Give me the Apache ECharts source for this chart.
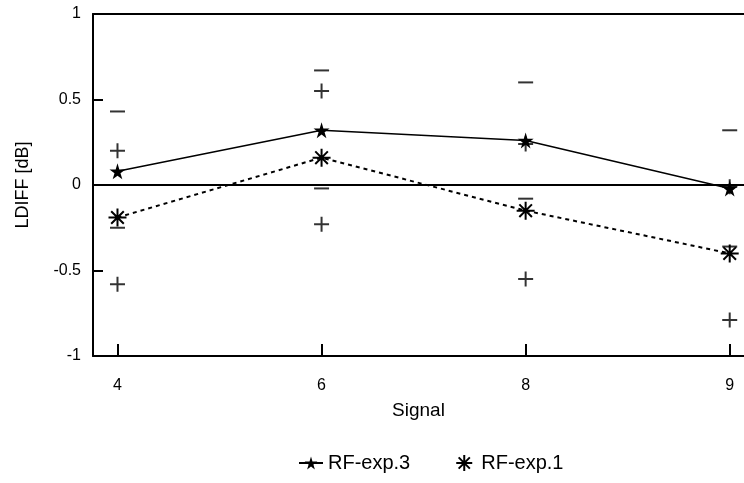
<!DOCTYPE html>
<html>
<head>
<meta charset="utf-8">
<script src="https://cdn.jsdelivr.net/npm/echarts@6/dist/echarts.min.js"></script>
<style>
  html, body { margin: 0; padding: 0; background: #fff; }
  #chart { width: 744px; height: 483px; }
</style>
</head>
<body>
<div id="chart"></div>
<script>
// Signal categories along the x axis
const categories = ['4', '6', '8', '9'];

// RF-exp.3: mean LDIFF with its upper / lower bounds
const rfExp3 = [0.08, 0.32, 0.26, -0.02];
const rfExp3Upper = [0.43, 0.67, 0.60, 0.32];
const rfExp3Lower = [-0.25, -0.02, -0.08, -0.36];

// RF-exp.1: mean LDIFF with its upper / lower bounds
const rfExp1 = [-0.19, 0.16, -0.15, -0.40];
const rfExp1Upper = [0.20, 0.55, 0.24, -0.01];
const rfExp1Lower = [-0.58, -0.23, -0.55, -0.79];

// y axis ticks
const yTicks = [-1, -0.5, 0, 0.5, 1];

const FONT = "'Liberation Sans', Arial, sans-serif";
const STAR = 'path://M50,0L61,35L98,35L68,57L79,91L50,70L21,91L32,57L2,35L39,35Z';
const ASTERISK = 'path://M0,10L20,10M10,0L10,20M3,3L17,17M3,17L17,3';
const PLUS = 'path://M6.5,0H8.5V6.5H15V8.5H8.5V15H6.5V8.5H0V6.5H6.5Z';
const MINUS = 'rect';

const idx = categories.map((_, i) => i);
const pts = arr => arr.map((v, i) => [i, v]);

function boundSeries(name, data, symbol, size) {
  return {
    name: name,
    type: 'scatter',
    data: pts(data),
    symbol: symbol,
    symbolSize: size,
    itemStyle: { color: '#000' },
    silent: true,
    z: 3
  };
}

const chart = echarts.init(document.getElementById('chart'), null, { renderer: 'canvas' });
chart.setOption({
  animation: false,
  backgroundColor: '#fff',
  textStyle: { fontFamily: FONT, color: '#000' },
  grid: { left: 93, top: 14, right: 0, height: 342 },
  legend: {
    left: 298,
    top: 453,
    padding: 0,
    itemWidth: 24,
    itemHeight: 16,
    itemGap: 45,
    textStyle: { fontFamily: FONT, fontSize: 20, color: '#000' },
    data: [
      { name: 'RF-exp.3' },
      { name: 'RF-exp.1', icon: ASTERISK }
    ]
  },
  xAxis: [
    {
      type: 'value',
      min: -0.12,
      max: 3.07,
      name: 'Signal',
      nameLocation: 'middle',
      nameGap: 45,
      nameTextStyle: { fontFamily: FONT, fontSize: 19, color: '#000' },
      axisLine: { show: true, onZero: false, lineStyle: { color: '#000', width: 2 } },
      axisTick: { show: true, inside: true, length: 12, customValues: idx, lineStyle: { color: '#000', width: 2 } },
      axisLabel: {
        customValues: idx,
        margin: 22,
        fontFamily: FONT, fontSize: 16, color: '#000',
        formatter: v => categories[Math.round(v)]
      },
      splitLine: { show: false }
    },
    {
      // frame line along the top edge of the plot
      type: 'value',
      position: 'top',
      min: -0.12,
      max: 3.07,
      axisLine: { show: true, onZero: false, lineStyle: { color: '#000', width: 2 } },
      axisTick: { show: false },
      axisLabel: { show: false },
      splitLine: { show: false }
    }
  ],
  yAxis: {
    type: 'value',
    min: yTicks[0],
    max: yTicks[yTicks.length - 1],
    interval: 0.5,
    name: 'LDIFF [dB]',
    nameLocation: 'middle',
    nameGap: 61,
    nameTextStyle: { fontFamily: FONT, fontSize: 18, color: '#000' },
    axisLine: { show: true, onZero: false, lineStyle: { color: '#000', width: 2 } },
    axisTick: { show: true, inside: true, length: 10, lineStyle: { color: '#000', width: 2 } },
    axisLabel: { margin: 12, fontFamily: FONT, fontSize: 16, color: '#000', formatter: v => String(v) },
    splitLine: { show: false }
  },
  series: [
    {
      name: 'RF-exp.3',
      type: 'line',
      data: pts(rfExp3),
      symbol: STAR,
      symbolSize: 16,
      itemStyle: { color: '#000' },
      lineStyle: { color: '#000', width: 1.5, type: 'solid' },
      z: 5,
      markLine: {
        silent: true,
        symbol: ['none', 'none'],
        label: { show: false },
        lineStyle: { color: '#000', width: 2, type: 'solid' },
        data: [{ yAxis: 0 }]
      }
    },
    {
      name: 'RF-exp.1',
      type: 'line',
      data: pts(rfExp1),
      symbol: ASTERISK,
      symbolSize: 18,
      itemStyle: { color: 'transparent', borderColor: '#000', borderWidth: 2 },
      lineStyle: { color: '#000', width: 2, type: [4, 4] },
      z: 5
    },
    boundSeries('RF-exp.3 upper', rfExp3Upper, MINUS, [15, 2]),
    boundSeries('RF-exp.3 lower', rfExp3Lower, MINUS, [15, 2]),
    boundSeries('RF-exp.1 upper', rfExp1Upper, PLUS, 15),
    boundSeries('RF-exp.1 lower', rfExp1Lower, PLUS, 15)
  ]
});
</script>
</body>
</html>
